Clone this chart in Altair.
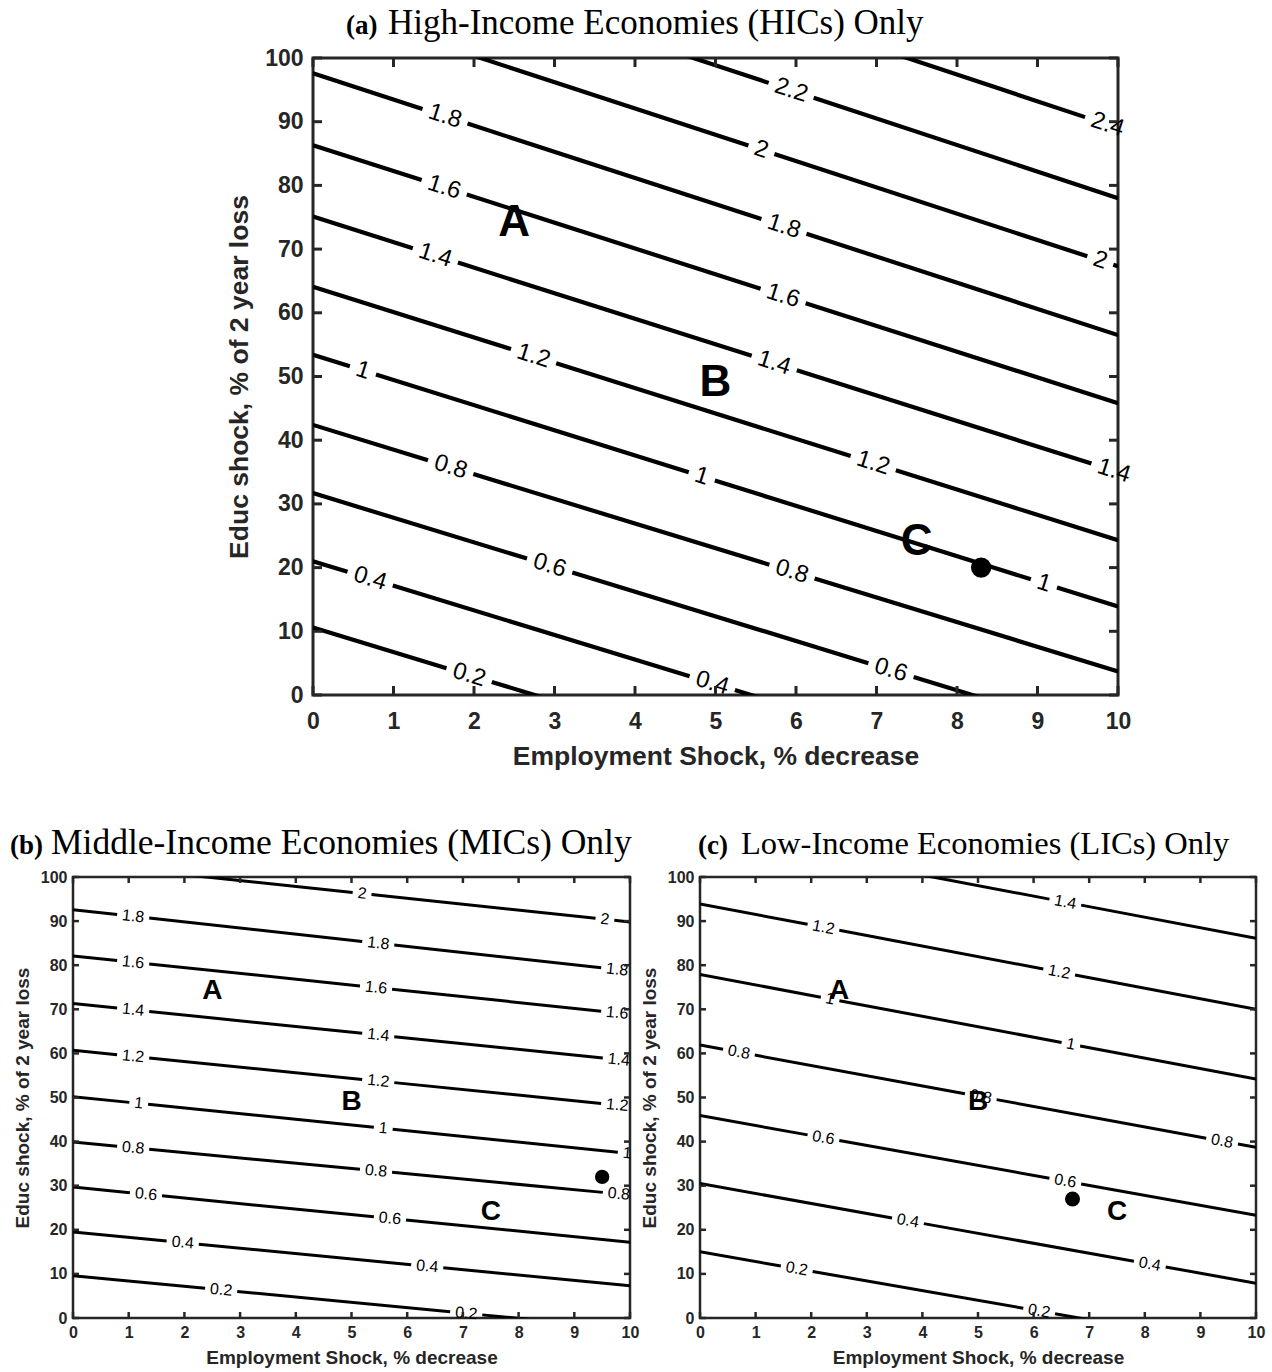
import math
import altair as alt
import pandas as pd

# ---------------- data ----------------
X_TICKS = [0, 1, 2, 3, 4, 5, 6, 7, 8, 9, 10]
Y_TICKS = [0, 10, 20, 30, 40, 50, 60, 70, 80, 90, 100]

# Panel (a): contour levels, their y value at x=0 and at x=10 (straight lines)
A_LEVELS = [0.2, 0.4, 0.6, 0.8, 1.0, 1.2, 1.4, 1.6, 1.8, 2.0, 2.2, 2.4]
A_Y_AT_X0 = [10.6, 21.0, 31.7, 42.4, 53.4, 64.1, 75.1, 86.3, 97.6, 108.6, 119.7, 131.0]
A_Y_AT_X10 = [-27.9, -17.6, -7.0, 3.7, 13.9, 24.3, 35.0, 45.8, 56.5, 67.3, 78.0, 89.0]
A_LABEL_X = [[1.94], [0.71, 4.96], [2.94, 7.18], [1.71, 5.95], [0.62, 4.83, 9.08],
             [2.74, 6.96], [1.52, 5.73, 9.95], [1.63, 5.84], [1.64, 5.85],
             [5.57, 9.78], [5.94], [9.87]]

# Panel (b)
B_LEVELS = [0.2, 0.4, 0.6, 0.8, 1.0, 1.2, 1.4, 1.6, 1.8, 2.0]
B_Y_AT_X0 = [9.6, 19.5, 29.7, 39.9, 50.2, 60.7, 71.3, 82.1, 92.6, 103.2]
B_Y_AT_X10 = [-2.5, 7.3, 17.2, 27.9, 37.3, 48.0, 58.3, 68.9, 78.7, 89.8]
B_LABEL_X = [[2.66, 7.06], [1.97, 6.36], [1.31, 5.69], [1.08, 5.44, 9.80],
             [1.18, 5.57, 9.95], [1.08, 5.48, 9.77], [1.08, 5.48, 9.80],
             [1.08, 5.44, 9.77], [1.08, 5.48, 9.77], [5.19, 9.55]]

# Panel (c)
C_LEVELS = [0.2, 0.4, 0.6, 0.8, 1.0, 1.2, 1.4]
C_Y_AT_X0 = [15.0, 30.5, 45.9, 61.9, 77.9, 93.9, 110.0]
C_Y_AT_X10 = [-7.0, 7.9, 23.3, 38.7, 54.2, 70.0, 86.1]
C_LABEL_X = [[1.74, 6.10], [3.74, 8.09], [2.22, 6.57], [0.70, 5.05, 9.39],
             [2.34, 6.67], [2.22, 6.46], [6.57]]

POINT_NAMES = ["A", "B", "C"]
POINT_X = [2.5, 5.0, 7.5]
POINT_Y = [75, 50, 25]

DOT_X = [8.3, 9.5, 6.7]   # panels a, b, c
DOT_Y = [20, 32, 27]

TITLES_BOLD = ["(a)", "(b)", "(c)"]
TITLES_MAIN = ["High-Income Economies (HICs) Only",
               "Middle-Income Economies (MICs) Only",
               "Low-Income Economies (LICs) Only"]

X_TITLE = "Employment Shock, % decrease"
Y_TITLE = "Educ shock, % of 2 year loss"

AXIS_COLOR = "#262626"
SANS = "Liberation Sans"
SERIF = "Liberation Serif"

# approximate advance widths (em) of the label glyphs, used to size the line gaps
GLYPH_EM = {".": 0.278}


def text_em(s):
    return sum(GLYPH_EM.get(ch, 0.556) for ch in s)


def make_panel(levels, y0s, y10s, label_xs, dot_x, dot_y, W, H, st,
               tbold, tmain, tb_x, tm_x, t_y):
    seg_rows = []
    lab_rows = []
    seg_id = 0
    for lv, a, b, xs in zip(levels, y0s, y10s, label_xs):
        ang = math.atan2((a - b) / 100.0 * H, W)
        txt = f"{lv:g}"
        half_px = text_em(txt) * st["lab_fs"] / 2.0 + st["gap_margin"]
        half_x = half_px * math.cos(ang) / (W / 10.0)
        cuts = sorted((xl - half_x, xl + half_x) for xl in xs)
        cur = 0.0
        pieces = []
        for lo, hi in cuts:
            if lo > cur:
                pieces.append((cur, lo))
            cur = max(cur, hi)
        if cur < 10.0:
            pieces.append((cur, 10.0))
        for x1, x2 in pieces:
            for xx in (x1, x2):
                seg_rows.append({"x": xx, "y": a + (b - a) * xx / 10.0, "seg": seg_id})
            seg_id += 1
        for xl in xs:
            lab_rows.append({"x": xl, "y": a + (b - a) * xl / 10.0,
                             "label": txt, "angle": math.degrees(ang)})
    seg_df = pd.DataFrame(seg_rows)
    lab_df = pd.DataFrame(lab_rows)

    pts_df = pd.DataFrame({"x": POINT_X, "y": POINT_Y, "name": POINT_NAMES})
    dot_df = pd.DataFrame({"x": [dot_x], "y": [dot_y]})
    xt_df = pd.DataFrame({"x": X_TICKS})
    yt_df = pd.DataFrame({"y": Y_TICKS})

    xs_ = alt.Scale(domain=[0, 10], nice=False, zero=False)
    ys_ = alt.Scale(domain=[0, 100], nice=False, zero=False)
    x_axis = alt.Axis(values=X_TICKS, format="d", ticks=False, tickSize=0, domain=False,
                      grid=False, labelFont=SANS, labelFontSize=st["tick_fs"],
                      labelFontWeight="bold", labelColor=AXIS_COLOR,
                      labelPadding=st["xlab_pad"], labelFlush=False, labelOverlap=False,
                      title=X_TITLE, titleFont=SANS, titleFontSize=st["title_fs"],
                      titleFontWeight="bold", titleColor=AXIS_COLOR,
                      titlePadding=st["xtitle_pad"])
    y_axis = alt.Axis(values=Y_TICKS, format="d", ticks=False, tickSize=0, domain=False,
                      grid=False, labelFont=SANS, labelFontSize=st["tick_fs"],
                      labelFontWeight="bold", labelColor=AXIS_COLOR,
                      labelPadding=st["ylab_pad"], labelFlush=False, labelOverlap=False,
                      title=Y_TITLE, titleFont=SANS, titleFontSize=st["title_fs"],
                      titleFontWeight="bold", titleColor=AXIS_COLOR,
                      titlePadding=st["ytitle_pad"])
    X = alt.X("x:Q", scale=xs_, axis=x_axis)
    Y = alt.Y("y:Q", scale=ys_, axis=y_axis)

    lines = alt.Chart(seg_df).mark_line(clip=True, color="black",
                                        strokeWidth=st["lw"]).encode(
        x=X, y=Y, detail="seg:N", order="x:Q")

    labels = alt.Chart(lab_df).mark_text(font=SANS, fontSize=st["lab_fs"], color="black",
                                         align="center", baseline="middle").encode(
        x=X, y=Y, text="label:N", angle=alt.Angle("angle:Q", scale=None))

    L = st["tick_len"]
    tw = st["tick_w"]
    tick_b = alt.Chart(xt_df).mark_rule(color=AXIS_COLOR, strokeWidth=tw).encode(
        x=X, y=alt.value(H), y2=alt.value(H - L))
    tick_t = alt.Chart(xt_df).mark_rule(color=AXIS_COLOR, strokeWidth=tw).encode(
        x=X, y=alt.value(0), y2=alt.value(L))
    tick_l = alt.Chart(yt_df).mark_rule(color=AXIS_COLOR, strokeWidth=tw).encode(
        y=Y, x=alt.value(0), x2=alt.value(L))
    tick_r = alt.Chart(yt_df).mark_rule(color=AXIS_COLOR, strokeWidth=tw).encode(
        y=Y, x=alt.value(W), x2=alt.value(W - L))

    pts = alt.Chart(pts_df).mark_text(font=SANS, fontWeight="bold", fontSize=st["pt_fs"],
                                      color="black", align="center", dy=st["pt_dy"],
                                      baseline="middle").encode(x=X, y=Y, text="name:N")
    dot = alt.Chart(dot_df).mark_circle(color="black", opacity=1,
                                        size=st["dot_size"]).encode(x=X, y=Y)

    tb = alt.Chart(pd.DataFrame({"t": [tbold]})).mark_text(
        font=SERIF, fontWeight="bold", fontSize=st["tb_fs"], color="black",
        align="left", baseline="alphabetic").encode(
        text="t:N", x=alt.value(tb_x), y=alt.value(t_y))
    tm = alt.Chart(pd.DataFrame({"t": [tmain]})).mark_text(
        font=SERIF, fontSize=st["tm_fs"], color="black",
        align="left", baseline="alphabetic").encode(
        text="t:N", x=alt.value(tm_x), y=alt.value(t_y))

    return alt.layer(lines, labels, tick_b, tick_t, tick_l, tick_r,
                     pts, dot, tb, tm).properties(
        width=W, height=H,
        view=alt.ViewBackground(stroke=AXIS_COLOR, strokeWidth=st["frame_w"]))


ST_A = dict(tick_fs=23, title_fs=26.5, xlab_pad=15, xtitle_pad=10, ylab_pad=10,
            ytitle_pad=11, lw=4.2, lab_fs=24, gap_margin=7, tick_len=9, tick_w=3,
            pt_fs=44, pt_dy=6, dot_size=415, frame_w=3, tb_fs=27, tm_fs=35)
ST_B = dict(tick_fs=16, title_fs=19, xlab_pad=6.5, xtitle_pad=8, ylab_pad=6,
            ytitle_pad=8, lw=3, lab_fs=16, gap_margin=5, tick_len=6, tick_w=2.5,
            pt_fs=28, pt_dy=4, dot_size=205, frame_w=2.5, tb_fs=27, tm_fs=35.5)
ST_C = dict(ST_B, dot_size=225, tm_fs=32.5)

panel_a = make_panel(A_LEVELS, A_Y_AT_X0, A_Y_AT_X10, A_LABEL_X, DOT_X[0], DOT_Y[0],
                     805, 637, ST_A, TITLES_BOLD[0], TITLES_MAIN[0], 33, 75, -24)
panel_b = make_panel(B_LEVELS, B_Y_AT_X0, B_Y_AT_X10, B_LABEL_X, DOT_X[1], DOT_Y[1],
                     557, 441, ST_B, TITLES_BOLD[1], TITLES_MAIN[1], -63, -22, -23)
panel_c = make_panel(C_LEVELS, C_Y_AT_X0, C_Y_AT_X10, C_LABEL_X, DOT_X[2], DOT_Y[2],
                     556, 441, ST_C, TITLES_BOLD[2], TITLES_MAIN[2], -2, 41, -23)

spacer = alt.Chart(pd.DataFrame({"v": [0]})).mark_point(opacity=0).encode(
    x=alt.value(0), y=alt.value(0)).properties(
    width=240, height=10, view=alt.ViewBackground(stroke="white", strokeWidth=1))

row_a = alt.hconcat(spacer, panel_a, spacing=0, bounds="flush")
row_bc = alt.hconcat(panel_b, panel_c, spacing=70, bounds="flush")

chart = alt.vconcat(row_a, row_bc, spacing=53).properties(
    padding={"left": 8, "top": 4, "right": 0, "bottom": 0},
    background="white")

chart.save("out.html", embed_options={"renderer": "svg", "actions": False})
